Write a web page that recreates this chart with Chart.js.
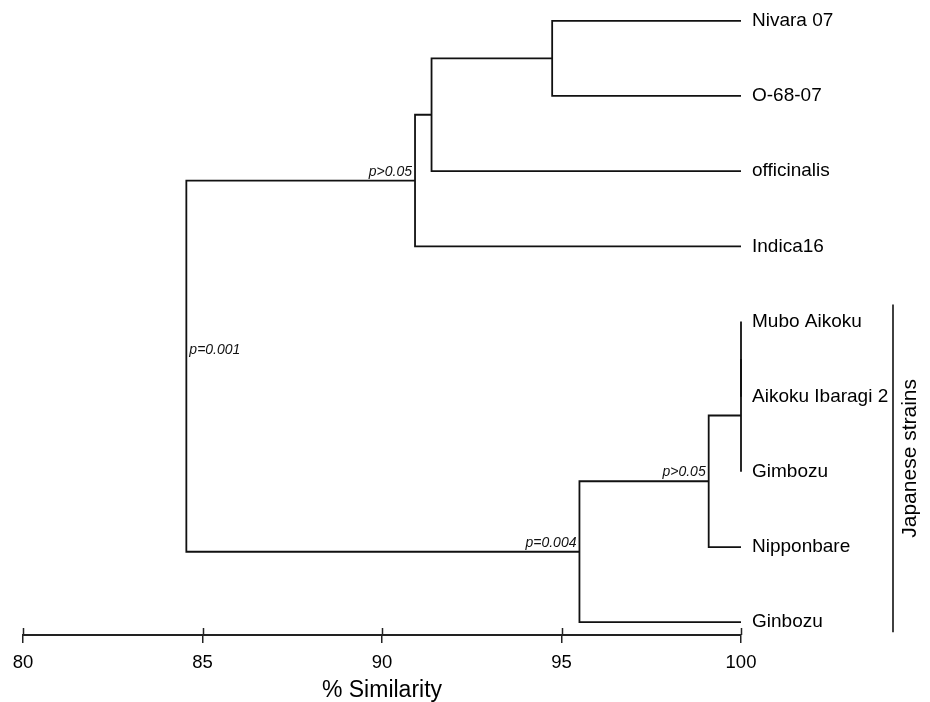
<!DOCTYPE html>
<html>
<head>
<meta charset="utf-8">
<title>% Similarity dendrogram</title>
<script src="https://cdn.jsdelivr.net/npm/chart.js@4.4.1/dist/chart.umd.min.js"></script>
<style>
    html, body
    {
        margin: 0;
        padding: 0;
        background: #fff;
    }

    #wrap
    {
        width: 930px;
        height: 702px;
    }
</style>
</head>
<body>
<div id="wrap"><canvas id="dendroChart" width="930" height="702"></canvas></div>
<script>
// leaves, top to bottom
const leafNames =
[
    "Nivara 07",
    "O-68-07",
    "officinalis",
    "Indica16",
    "Mubo Aikoku",
    "Aikoku Ibaragi 2",
    "Gimbozu",
    "Nipponbare",
    "Ginbozu"
];
const leafSimilarity = 100;

// merge nodes, each joins two children (a leaf name or an earlier node id)
const nodeIds = ["n0", "n1", "n2", "n3", "n4", "n5", "n6", "n7"];
const nodeLeft = ["Nivara 07", "n0", "n1", "Mubo Aikoku", "n3", "n4", "n5", "n2"];
const nodeRight = ["O-68-07", "officinalis", "Indica16", "Aikoku Ibaragi 2", "Gimbozu", "Nipponbare", "Ginbozu", "n6"];
const nodeSimilarity = [94.74, 91.38, 90.92, 100, 100, 99.1, 95.5, 84.55];

const pValueNodes = ["n2", "n5", "n6", "n7"];
const pValueLabels = ["p>0.05", "p>0.05", "p=0.004", "p=0.001"];

const groupName = "Japanese strains";
const groupFirst = "Mubo Aikoku";
const groupLast = "Ginbozu";

const xTicks = [80, 85, 90, 95, 100];
const xTitle = "% Similarity";

const FONT = "'Liberation Sans', Arial, sans-serif";
const LINE_COLOR = "#111";

function buildPositions()
{
    const pos = {};

    leafNames.forEach((name, index) =>
    {
        pos[name] = { x: leafSimilarity, y: index };
    });

    nodeIds.forEach((id, index) =>
    {
        const a = pos[nodeLeft[index]];
        const b = pos[nodeRight[index]];
        pos[id] = { x: nodeSimilarity[index], y: (a.y + b.y) / 2 };
    });

    return pos;
}

const positions = buildPositions();

function createBranchDataset(id, index)
{
    const a = positions[nodeLeft[index]];
    const b = positions[nodeRight[index]];
    const h = nodeSimilarity[index];

    return {
        label: id,
        data:
        [
            { x: a.x, y: a.y },
            { x: h, y: a.y },
            { x: h, y: b.y },
            { x: b.x, y: b.y }
        ],
        showLine: true,
        borderColor: LINE_COLOR,
        borderWidth: 1.8,
        pointRadius: 0,
        tension: 0,
        clip: false
    };
}

const extrasPlugin =
{
    id: "dendroExtras",
    afterDraw(chart)
    {
        const ctx = chart.ctx;
        const xs = chart.scales.x;
        const ys = chart.scales.y;
        const area = chart.chartArea;

        ctx.save();

        // tick marks reaching above the axis line
        ctx.strokeStyle = "#222";
        ctx.lineWidth = 1.5;
        xTicks.forEach((v) =>
        {
            const px = Math.round(xs.getPixelForValue(v)) + 0.5;
            ctx.beginPath();
            ctx.moveTo(px, area.bottom - 7);
            ctx.lineTo(px, area.bottom);
            ctx.stroke();
        });

        // p values
        ctx.fillStyle = "#111";
        ctx.font = "italic 14px " + FONT;
        ctx.textBaseline = "alphabetic";
        pValueNodes.forEach((id, index) =>
        {
            const p = positions[id];
            const px = xs.getPixelForValue(p.x);
            const py = ys.getPixelForValue(p.y);

            if (id === nodeIds[nodeIds.length - 1])
            {
                ctx.textAlign = "left";
                ctx.fillText(pValueLabels[index], px + 3, py - 12);
            }
            else
            {
                ctx.textAlign = "right";
                ctx.fillText(pValueLabels[index], px - 3, py - 5);
            }
        });

        // group bracket
        const gx = area.right + 152;
        const y0 = ys.getPixelForValue(positions[groupFirst].y) - 17;
        const y1 = ys.getPixelForValue(positions[groupLast].y) + 10;

        ctx.strokeStyle = LINE_COLOR;
        ctx.lineWidth = 1.6;
        ctx.beginPath();
        ctx.moveTo(gx, y0);
        ctx.lineTo(gx, y1);
        ctx.stroke();

        ctx.translate(gx + 17, (y0 + y1) / 2 - 10);
        ctx.rotate(-Math.PI / 2);
        ctx.textAlign = "center";
        ctx.textBaseline = "middle";
        ctx.font = "21px " + FONT;
        ctx.fillStyle = "#000";
        ctx.fillText(groupName, 0, 0);

        ctx.restore();
    }
};

window.addEventListener("load", () =>
{
    const canvas = document.getElementById("dendroChart");

    new Chart(canvas.getContext("2d"),
    {
        type: "scatter",
        data:
        {
            datasets: nodeIds.map(createBranchDataset)
        },
        options:
        {
            animation: false,
            responsive: false,
            events: [],
            layout:
            {
                padding: { left: 23, right: 0, top: 2, bottom: 0 }
            },
            plugins:
            {
                legend: { display: false },
                tooltip: { enabled: false }
            },
            scales:
            {
                x:
                {
                    type: "linear",
                    position: "bottom",
                    min: xTicks[0],
                    max: xTicks[xTicks.length - 1],
                    afterBuildTicks(axis)
                    {
                        axis.ticks = xTicks.map((v) => ({ value: v }));
                    },
                    afterFit(axis)
                    {
                        axis.height = 67;
                    },
                    ticks:
                    {
                        color: "#000",
                        padding: 9,
                        font: { family: FONT, size: 18.5 }
                    },
                    grid:
                    {
                        drawOnChartArea: false,
                        tickLength: 8,
                        color: "#222",
                        lineWidth: 1.5
                    },
                    border:
                    {
                        color: "#222",
                        width: 2
                    },
                    title:
                    {
                        display: true,
                        text: xTitle,
                        color: "#000",
                        font: { family: FONT, size: 23 },
                        padding: { top: 0, bottom: -2 }
                    }
                },
                y:
                {
                    type: "linear",
                    position: "right",
                    reverse: true,
                    min: -0.25,
                    max: 8.17,
                    afterBuildTicks(axis)
                    {
                        axis.ticks = leafNames.map((name, index) => ({ value: index }));
                    },
                    afterFit(axis)
                    {
                        axis.width = 189;
                        axis.paddingTop = 0;
                        axis.paddingBottom = 0;
                    },
                    ticks:
                    {
                        color: "#000",
                        padding: 11,
                        autoSkip: false,
                        font: { family: FONT, size: 19 },
                        callback(value)
                        {
                            return leafNames[value];
                        }
                    },
                    grid:
                    {
                        display: false,
                        drawTicks: false
                    },
                    border:
                    {
                        display: false
                    }
                }
            }
        },
        plugins: [extrasPlugin]
    });
});
</script>
</body>
</html>
